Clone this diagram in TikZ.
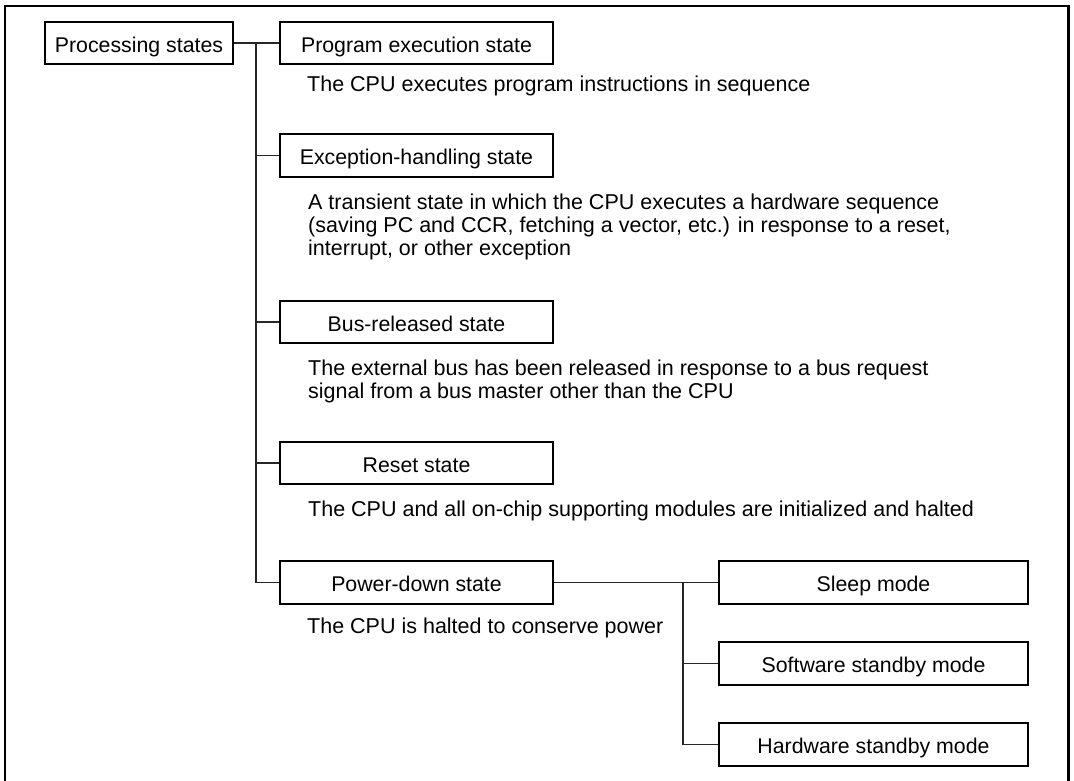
\documentclass[tikz,border=0pt]{standalone}
\usepackage{fontspec}
\setmainfont{Liberation Sans}
\begin{document}
\begin{tikzpicture}[x=1pt,y=-1pt,
  box/.style={draw=black, line width=1.2pt, rectangle, inner sep=0pt,
    text height=18.5pt, text depth=0pt, font=\fontsize{21.3}{23}\selectfont},
  wbox/.style={box, minimum width=273pt},
  mbox/.style={box, minimum width=309pt, minimum height=43pt},
  desc/.style={anchor=base west, inner sep=0pt, align=left, font=\fontsize{21.5}{23}\selectfont},
  conn/.style={draw=black!85, line width=1.1pt},
  frame/.style={draw=black, line width=2.6pt}]
\useasboundingbox (0,0) rectangle (1074,781);
\draw[frame] (5,781) -- (5,6) -- (1068.5,6) -- (1068.5,781);

\node[box, minimum width=188pt, minimum height=42pt] (ps) at (139,43) {Processing states};
\node[wbox, minimum height=42pt] (prog) at (416.5,43) {Program execution state};
\node[wbox, minimum height=43pt] (exc) at (416.5,155.5) {Exception-handling state};
\node[wbox, minimum height=42pt] (bus) at (416.5,322) {Bus-released state};
\node[wbox, minimum height=42pt] (reset) at (416.5,463) {Reset state};
\node[wbox, minimum height=43pt] (pd) at (416.5,582.5) {Power-down state};
\node[mbox] (sleep) at (873.5,582.5) {Sleep mode};
\node[mbox] (sw) at (873.5,663.5) {Software standby mode};
\node[mbox] (hw) at (873.5,744.5) {Hardware standby mode};

% multi-line nodes: base anchor lies on the last line
\node[desc] (d1) at (307,92) {The CPU executes program instructions in sequence};
\node[desc] (d2) at (308,255) {A transient state in which the CPU executes a hardware sequence\\(saving PC and CCR, fetching a vector, etc.) in response to a reset,\\interrupt, or other exception};
\node[desc] (d3) at (308,398) {The external bus has been released in response to a bus request\\signal from a bus master other than the CPU};
\node[desc] (d4) at (308,516) {The CPU and all on-chip supporting modules are initialized and halted};
\node[desc] (d5) at (307,633) {The CPU is halted to conserve power};

\coordinate (t0) at (256,43);
\coordinate (t1) at (256,582.5);
\coordinate (s0) at (683,582.5);
\draw[conn] (ps.east) -- (prog.west);
\draw[conn] (t0) -- (t1) -- (pd.west);
\draw[conn] (t0 |- exc.west) -- (exc.west);
\draw[conn] (t0 |- bus.west) -- (bus.west);
\draw[conn] (t0 |- reset.west) -- (reset.west);
\draw[conn] (pd.east) -- (sleep.west);
\draw[conn] (s0) |- (hw.west);
\draw[conn] (s0 |- sw.west) -- (sw.west);
\end{tikzpicture}
\end{document}
